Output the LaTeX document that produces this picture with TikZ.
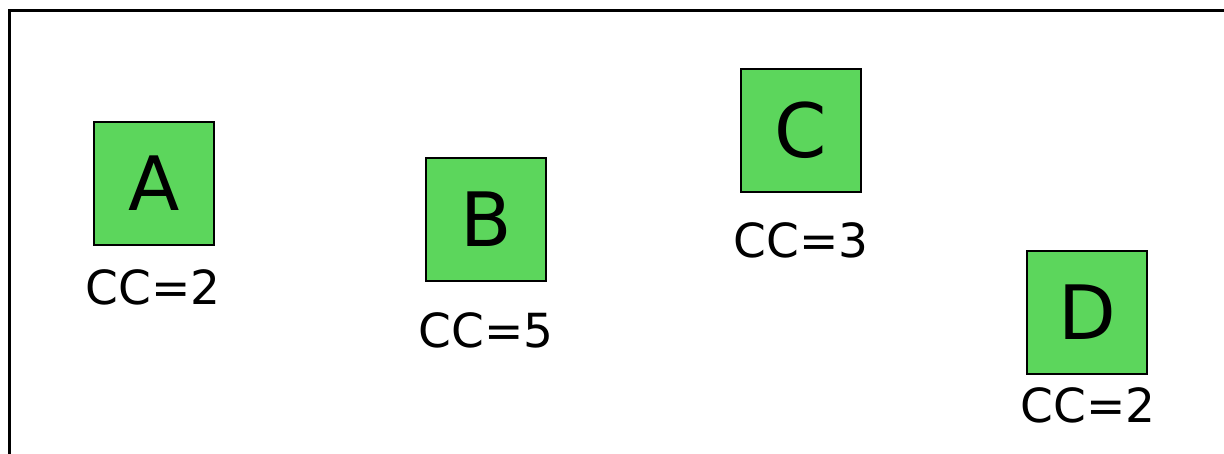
\documentclass[tikz,border=0pt]{standalone}
\usepackage{fontspec}
\setmainfont{DejaVu Sans}
\definecolor{boxgreen}{RGB}{92,214,92}
\tikzset{
  sq/.style={draw=black, line width=2.5pt, fill=boxgreen, minimum width=120pt, minimum height=123pt, inner sep=0pt, font=\fontsize{75}{80}\selectfont},
  cc/.style={inner sep=0pt, font=\fontsize{47}{52}\selectfont},
}
\begin{document}
\begin{tikzpicture}[x=1pt,y=1pt]
\useasboundingbox (0,0) rectangle (1224,-454);
\fill[white] (0,0) rectangle (1224,-454);
\draw[line width=3.5pt] (9.5,-454) -- (9.5,-10.5) -- (1224,-10.5);
\node[sq] (A) at (154,-183.5) {A};
\node[sq] (B) at (486,-219.5) {B};
\node[sq] (C) at (801,-130.5) {C};
\node[sq] (D) at (1087,-312.5) {D};
\node[cc] (la) at (153,-287) {CC=2};
\node[cc] (lb) at (486,-330) {CC=5};
\node[cc] (lc) at (801,-240) {CC=3};
\node[cc] (ld) at (1088,-405) {CC=2};
\end{tikzpicture}
\end{document}
